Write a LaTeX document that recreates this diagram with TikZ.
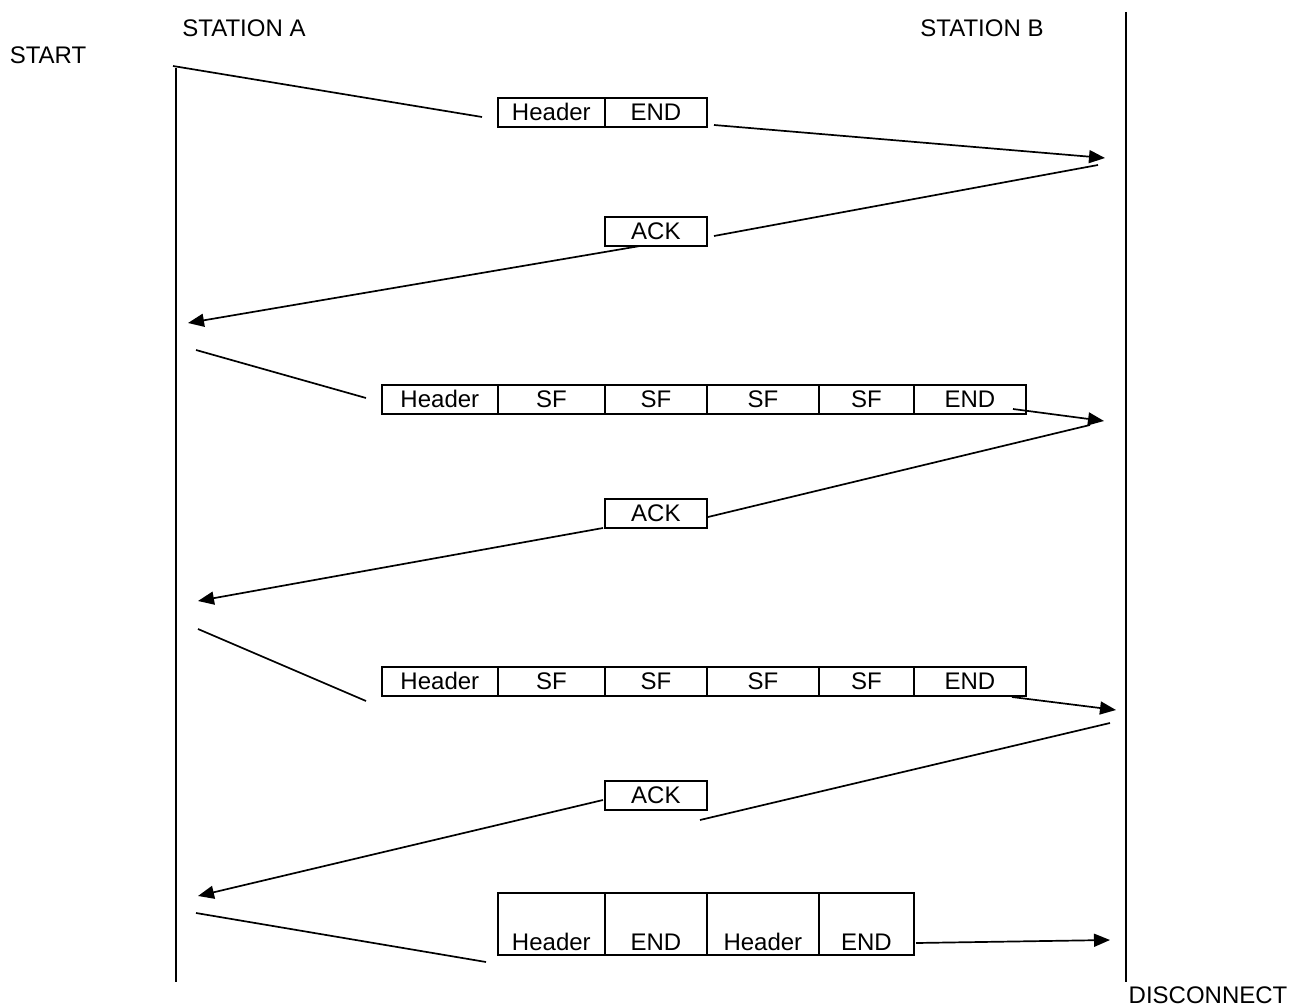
\documentclass[tikz,border=0pt]{standalone}
\usepackage{fontspec}
\setmainfont{Liberation Sans}
\usetikzlibrary{arrows.meta}
\begin{document}
\begin{tikzpicture}[x=1pt,y={(0pt,-1pt)},
  every node/.style={font=\fontsize{24}{28}\selectfont},
  wire/.style={line width=1.7pt},
  arr/.style={wire,-{Triangle[length=16pt,width=13pt]}},
  cell/.style={draw,line width=1.7pt,inner sep=0pt,minimum height=29pt,anchor=north west},
  tallcell/.style={draw,line width=1.7pt,inner sep=0pt,minimum height=62pt,anchor=north west},
  lbl/.style={inner sep=0pt}]
\useasboundingbox[fill=white] (0,0) rectangle (1290,1008);
% labels
\node[lbl] (sa) at (244,28) {STATION A};
\node[lbl] (sb) at (982,28) {STATION B};
\node[lbl] (start) at (48,55) {START};
\node[lbl] (disc) at (1208,995) {DISCONNECT};
% stations
\coordinate (a0) at (176,68); \coordinate (a1) at (176,982);
\coordinate (b0) at (1126,12); \coordinate (b1) at (1126,982);
\draw[wire] (a0) -- (a1);
\draw[wire] (b0) -- (b1);
% message 1
\node[cell,minimum width=107pt] (m1h) at (497,97) {Header};
\node[cell,minimum width=102pt] (m1e) at (604,97) {END};
\coordinate (m1s) at (173,66); \coordinate (m1a) at (482,117);
\coordinate (m1b) at (714,125); \coordinate (m1t) at (1105,158);
\draw[wire] (m1s) -- (m1a);
\draw[arr] (m1b) -- (m1t);
% ack 1
\node[cell,minimum width=102pt] (k1) at (604,216) {ACK};
\coordinate (k1s) at (1098,165); \coordinate (k1a) at (714,236);
\coordinate (k1b) at (640,246); \coordinate (k1t) at (188,323);
\draw[wire] (k1s) -- (k1a);
\draw[arr] (k1b) -- (k1t);
% message 2
\node[cell,minimum width=116pt] (m2h) at (381,384) {Header};
\node[cell,minimum width=107pt] (m2s1) at (497,384) {SF};
\node[cell,minimum width=102pt] (m2s2) at (604,384) {SF};
\node[cell,minimum width=112pt] (m2s3) at (706,384) {SF};
\node[cell,minimum width=95pt] (m2s4) at (818,384) {SF};
\node[cell,minimum width=112pt] (m2e) at (913,384) {END};
\coordinate (m2s) at (196,350); \coordinate (m2a) at (366,398);
\coordinate (m2b) at (1013,409); \coordinate (m2t) at (1104,421);
\draw[wire] (m2s) -- (m2a);
\draw[arr] (m2b) -- (m2t);
% ack 2
\node[cell,minimum width=102pt] (k2) at (604,498) {ACK};
\coordinate (k2s) at (1090,425); \coordinate (k2a) at (708,517);
\coordinate (k2b) at (603,528); \coordinate (k2t) at (198,601);
\draw[wire] (k2s) -- (k2a);
\draw[arr] (k2b) -- (k2t);
% message 3
\node[cell,minimum width=116pt] (m3h) at (381,666) {Header};
\node[cell,minimum width=107pt] (m3s1) at (497,666) {SF};
\node[cell,minimum width=102pt] (m3s2) at (604,666) {SF};
\node[cell,minimum width=112pt] (m3s3) at (706,666) {SF};
\node[cell,minimum width=95pt] (m3s4) at (818,666) {SF};
\node[cell,minimum width=112pt] (m3e) at (913,666) {END};
\coordinate (m3s) at (198,629); \coordinate (m3a) at (366,701);
\coordinate (m3b) at (1012,697); \coordinate (m3t) at (1116,710);
\draw[wire] (m3s) -- (m3a);
\draw[arr] (m3b) -- (m3t);
% ack 3
\node[cell,minimum width=102pt] (k3) at (604,780) {ACK};
\coordinate (k3s) at (1110,723); \coordinate (k3a) at (700,820);
\coordinate (k3b) at (603,800); \coordinate (k3t) at (198,896);
\draw[wire] (k3s) -- (k3a);
\draw[arr] (k3b) -- (k3t);
% message 4
\node[tallcell,minimum width=107pt,label={[lbl,anchor=base,yshift=5pt]south:Header}] (m4h1) at (497,892) {};
\node[tallcell,minimum width=102pt,label={[lbl,anchor=base,yshift=5pt]south:END}] (m4e1) at (604,892) {};
\node[tallcell,minimum width=112pt,label={[lbl,anchor=base,yshift=5pt]south:Header}] (m4h2) at (706,892) {};
\node[tallcell,minimum width=95pt,label={[lbl,anchor=base,yshift=5pt]south:END}] (m4e2) at (818,892) {};
\coordinate (m4s) at (196,913); \coordinate (m4a) at (486,962);
\coordinate (m4b) at (916,943); \coordinate (m4t) at (1110,940);
\draw[wire] (m4s) -- (m4a);
\draw[arr] (m4b) -- (m4t);
\end{tikzpicture}
\end{document}
